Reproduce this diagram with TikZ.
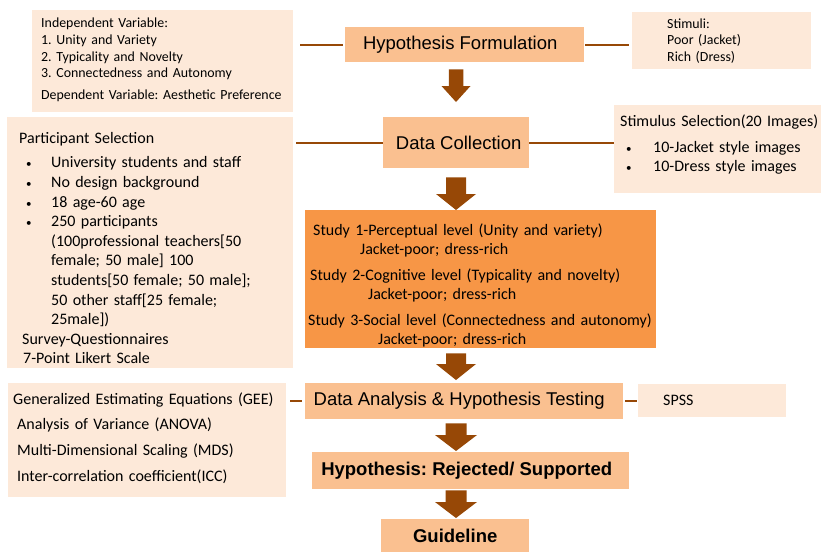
\documentclass[tikz,border=0pt]{standalone}
\usepackage{fontspec}
\setmainfont{Carlito}
\newfontfamily\arialfont{Liberation Sans}
\usetikzlibrary{positioning,calc}

\definecolor{sidefill}{HTML}{FDE9D9}
\definecolor{mainfill}{HTML}{FAC090}
\definecolor{studyfill}{HTML}{F79646}
\definecolor{arrowcol}{HTML}{974806}
\definecolor{linkcol}{HTML}{974806}

% bullet with indent and width
\newcommand{\bitem}[2]{\makebox[#2][l]{\hspace{#1}{\fontsize{11}{11}\selectfont\textbullet}}}
% fat down arrow between two boxes: [half head] from, to, gap top, gap bottom
\newcommand{\fatarrow}[5][20]{%
  \path (#2.south -| axis) ++(0,#4) coordinate (fatA)
        (#3.north -| axis) ++(0,-#5) coordinate (fatB);
  \fill[arrowcol] ($(fatA)+(-#1/2,0)$) -- ($(fatA)+(#1/2,0)$)
    -- ($(fatB)+(#1/2,-16)$) -- ($(fatB)+(#1,-16)$) -- (fatB)
    -- ($(fatB)+(-#1,-16)$) -- ($(fatB)+(-#1/2,-16)$) -- cycle;
}

\tikzset{
  sidebox/.style={fill=sidefill, anchor=north west, inner ysep=0pt, align=left},
  mainbox/.style={fill=mainfill, anchor=north west, inner sep=0pt,
    font=\arialfont\fontsize{18.5}{22}\selectfont},
  link/.style={draw=linkcol, line width=1.6pt},
}

\begin{document}
\frenchspacing
\begin{tikzpicture}[x=1pt,y=-1pt]
    \useasboundingbox (0,0) rectangle (821,552);
    \coordinate (axis) at (456,0);

    % main column
    \node[mainbox, minimum width=239pt, minimum height=35pt] (hyp) at (345,27) {Hypothesis Formulation\hspace*{9pt}};
    \node[mainbox, minimum width=146pt, minimum height=51pt] (dc) at (383,117) {\hspace*{5pt}Data Collection};
    \node[sidebox, fill=studyfill, minimum width=351pt, minimum height=138pt,
          inner xsep=0pt, text width=351pt, font=\fontsize{16}{18.5}\selectfont] (study) at (305,210)
      {\rule{0pt}{24pt}\hspace*{8pt}\mbox{Study 1-Perceptual level (Unity and variety)}\\
       \hspace*{55pt}Jacket-poor; dress-rich\\[8pt]
       \hspace*{5pt}\mbox{Study 2-Cognitive level (Typicality and novelty)}\\
       \hspace*{63pt}Jacket-poor; dress-rich\\[8pt]
       \hspace*{3pt}\mbox{Study 3-Social level (Connectedness and autonomy)}\\
       \hspace*{73pt}Jacket-poor; dress-rich};
    \node[mainbox, minimum width=318pt, minimum height=36pt] (analysis) at (305,383) {Data Analysis \& Hypothesis Testing\hspace*{10pt}};
    \node[mainbox, minimum width=317pt, minimum height=37pt, font=\arialfont\bfseries\fontsize{18.5}{22}\selectfont] (result) at (312,452) {Hypothesis: Rejected/ Supported\hspace*{8pt}};
    \node[mainbox, minimum width=148pt, minimum height=33pt, font=\arialfont\bfseries\fontsize{18.5}{22}\selectfont] (guide) at (381,519) {Guideline};

    % side boxes
    \node[sidebox, minimum width=261pt, minimum height=102pt, inner xsep=9pt, text width=243pt,
          font=\fontsize{13.9}{16.7}\selectfont] (indep) at (32,10)
      {Independent Variable:\\
       1. Unity and Variety\\
       2. Typicality and Novelty\\
       3. Connectedness and Autonomy\\[5pt]
       Dependent Variable: Aesthetic Preference\rule[-5pt]{0pt}{5pt}};
    \node[sidebox, minimum width=179pt, minimum height=57pt, inner xsep=35pt, text width=109pt,
          font=\fontsize{13.9}{16.5}\selectfont] (stimuli) at (632,12)
      {Stimuli:\\ Poor (Jacket)\\ Rich (Dress)};
    \node[sidebox, minimum width=286pt, minimum height=251pt, inner xsep=12pt, text width=262pt,
          font=\fontsize{16}{19.6}\selectfont] (partsel) at (7,117)
      {\rule{0pt}{22pt}Participant Selection\\[5pt]
       \bitem{7pt}{32pt}University students and staff\\
       \bitem{7pt}{32pt}No design background\\
       \bitem{7pt}{32pt}18 age-60 age\\
       \bitem{7pt}{32pt}250 participants\\
       \hspace*{32pt}(100professional teachers[50\\
       \hspace*{32pt}female; 50 male] 100\\
       \hspace*{32pt}students[50 female; 50 male];\\
       \hspace*{32pt}50 other staff[25 female;\\
       \hspace*{32pt}25male])\\
       \hspace*{3pt}Survey-Questionnaires\\
       \hspace*{4pt}7-Point Likert Scale};
    \node[sidebox, minimum width=207pt, minimum height=88pt, inner xsep=0pt, text width=207pt,
          font=\fontsize{16}{19}\selectfont] (stimsel) at (614,105)
      {\hspace*{6pt}Stimulus Selection(20 Images)\\[7pt]
       \bitem{12pt}{39pt}10-Jacket style images\\
       \bitem{12pt}{39pt}10-Dress style images\rule[-13pt]{0pt}{13pt}};
    \node[sidebox, minimum width=278pt, minimum height=114pt, inner xsep=5pt, text width=268pt,
          font=\fontsize{16}{25.7}\selectfont] (gee) at (8,383)
      {Generalized Estimating Equations (GEE)\\
       \hspace*{4pt}Analysis of Variance (ANOVA)\\
       \hspace*{4pt}Multi-Dimensional Scaling (MDS)\\
       \hspace*{4pt}Inter-correlation coefficient(ICC)\rule[-7pt]{0pt}{7pt}};
    \node[sidebox, minimum width=148pt, minimum height=33pt, inner xsep=25pt, text width=98pt,
          font=\fontsize{16}{19}\selectfont] (spss) at (638,384) {SPSS};

    % links to the side boxes
    \draw[link, shorten <=7pt, shorten >=2pt] (indep.east |- hyp.west) -- (hyp.west);
    \draw[link, shorten <=1pt, shorten >=3pt] (hyp.east) -- (hyp.east -| stimuli.west);
    \draw[link, shorten <=3pt] (partsel.east |- dc.west) -- (dc.west);
    \draw[link] (dc.east) -- (dc.east -| stimsel.west);
    \draw[link, shorten <=4pt, shorten >=3pt] (gee.east |- analysis.west) -- (analysis.west);
    \draw[link, shorten <=2pt, shorten >=1pt] (analysis.east) -- (analysis.east -| spss.west);

    % arrows down the main column
    \fatarrow[14.5]{hyp}{dc}{7}{15}
    \fatarrow{dc}{study}{9}{0}
    \fatarrow{study}{analysis}{5}{3}
    \fatarrow[21]{analysis}{result}{4}{1}
    \fatarrow[21]{result}{guide}{1}{1}
\end{tikzpicture}
\end{document}
